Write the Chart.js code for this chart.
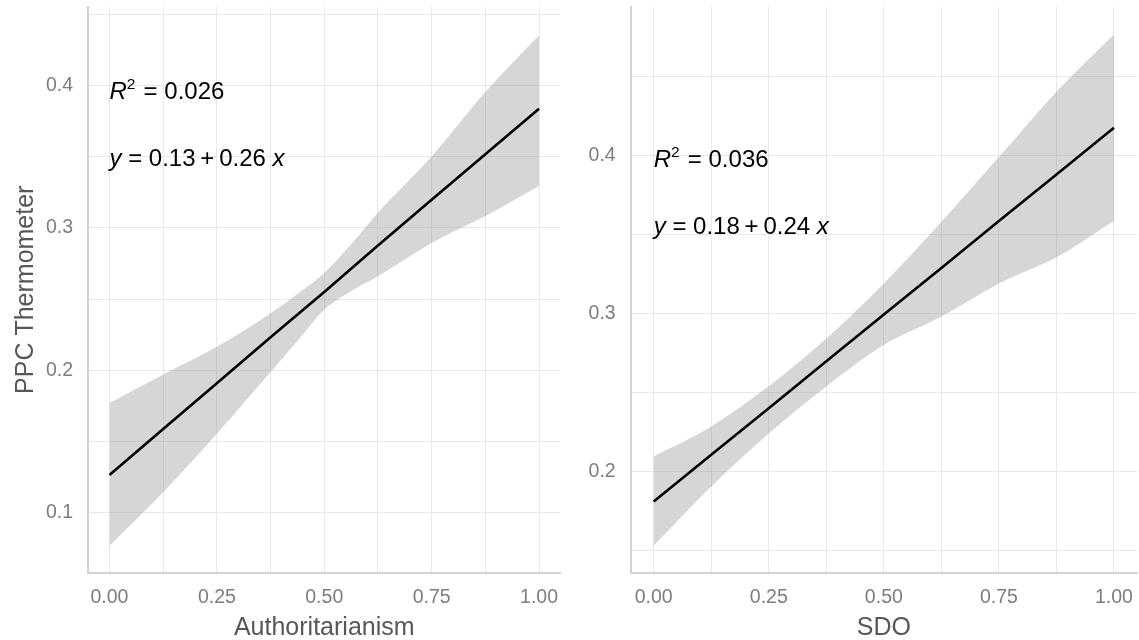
<!DOCTYPE html>
<html>
<head>
<meta charset="utf-8">
<script src="https://cdn.jsdelivr.net/npm/chart.js@4.4.1/dist/chart.umd.min.js"></script>
<style>
  html, body { margin: 0; padding: 0; background: #ffffff; }
  #wrap { position: relative; width: 1139px; height: 640px; overflow: hidden; }
  .panel { position: absolute; top: 0; height: 640px; }
  #left  { left: 0;     width: 570px; }
  #right { left: 570px; width: 569px; }
</style>
</head>
<body>
<div id="wrap">
  <div class="panel" id="left"><canvas id="authChart"></canvas></div>
  <div class="panel" id="right"><canvas id="sdoChart"></canvas></div>
</div>
<script>
// ---- Authoritarianism panel ----
const authFitX   = [0, 0.125, 0.25, 0.375, 0.5, 0.625, 0.75, 0.875, 1];
const authFitY   = [0.1265, 0.1588, 0.1908, 0.2231, 0.2549, 0.2875, 0.3197, 0.3516, 0.3835];
const authBandX  = [0, 0.125, 0.25, 0.375, 0.4375, 0.5, 0.5625, 0.625, 0.75, 0.875, 1];
const authUpper  = [0.177, 0.197, 0.2164, 0.240, 0.2535, 0.2683, 0.2885, 0.3106, 0.350, 0.3953, 0.4352];
const authLower  = [0.0768, 0.1143, 0.1554, 0.1988, 0.2205, 0.2425, 0.2555, 0.266, 0.2894, 0.3082, 0.3293];

// ---- SDO panel ----
const sdoFitX    = [0, 0.125, 0.25, 0.375, 0.5, 0.625, 0.75, 0.875, 1];
const sdoFitY    = [0.181, 0.2105, 0.2400, 0.2697, 0.2993, 0.3288, 0.3585, 0.388, 0.4176];
const sdoBandX   = [0, 0.125, 0.25, 0.375, 0.5, 0.625, 0.75, 0.875, 1];
const sdoUpper   = [0.2095, 0.2285, 0.254, 0.2842, 0.319, 0.358, 0.399, 0.4404, 0.4766];
const sdoLower   = [0.1531, 0.1905, 0.224, 0.2538, 0.280, 0.298, 0.319, 0.3356, 0.3586];

// ---- fit statistics shown in each panel ----
const panelNames  = ['Authoritarianism', 'SDO'];
const rSquared    = ['0.026', '0.036'];
const intercepts  = ['0.13', '0.18'];
const slopes      = ['0.26', '0.24'];

// ---- axes ----
const xGridValues  = [0, 0.125, 0.25, 0.375, 0.5, 0.625, 0.75, 0.875, 1];
const xLabelValues = [0, 0.25, 0.5, 0.75, 1];
const xTickLabels  = ['0.00', '0.25', '0.50', '0.75', '1.00'];
const authYGrid    = [0.1, 0.15, 0.2, 0.25, 0.3, 0.35, 0.4, 0.45];
const sdoYGrid     = [0.15, 0.2, 0.25, 0.3, 0.35, 0.4, 0.45];
const yLabelValues = [0.1, 0.2, 0.3, 0.4];
const yTickLabels  = ['0.1', '0.2', '0.3', '0.4'];
const yAxisTitle   = 'PPC Thermometer';

const FONT = '"Liberation Sans", Arial, sans-serif';
const GRID = '#e8e8e8';

function labelFor(values, labels, v) {
  const i = values.findIndex(u => Math.abs(u - v) < 1e-9);
  return i < 0 ? '' : labels[i];
}

function pts(xs, ys) { return xs.map((x, i) => ({ x: x, y: ys[i] })); }

// Draws the R² and regression equation in plotmath style
const eqLabels = {
  id: 'eqLabels',
  afterDatasetsDraw(chart, args, opts) {
    const { ctx } = chart;
    const xs = chart.scales.x, ys = chart.scales.y;
    const left = xs.getPixelForValue(opts.x);
    ctx.save();
    ctx.fillStyle = '#000000';
    ctx.textBaseline = 'alphabetic';
    ctx.textAlign = 'left';
    opts.lines.forEach(line => {
      let cx = left;
      const base = ys.getPixelForValue(line.y);
      line.parts.forEach(p => {
        ctx.font = (p.italic ? 'italic ' : '') + p.size + 'px ' + FONT;
        ctx.fillText(p.text, cx, base + (p.rise || 0));
        cx += ctx.measureText(p.text).width + (p.gap || 0);
      });
    });
    ctx.restore();
  }
};

function makeChart(canvasId, cfg) {
  const size = 24;
  return new Chart(document.getElementById(canvasId), {
    type: 'line',
    data: {
      datasets: [
        // confidence band: upper edge filled down to the lower edge
        { data: pts(cfg.bandX, cfg.upper), borderWidth: 0, borderColor: 'rgba(0,0,0,0)',
          pointRadius: 0, fill: '+1', backgroundColor: 'rgba(153,153,153,0.4)',
          cubicInterpolationMode: 'monotone', order: 2 },
        { data: pts(cfg.bandX, cfg.lower), borderWidth: 0, borderColor: 'rgba(0,0,0,0)',
          pointRadius: 0, fill: false, cubicInterpolationMode: 'monotone', order: 1 },
        // fitted regression line, drawn on top of the band
        { data: pts(cfg.fitX, cfg.fitY), borderColor: '#000000', borderWidth: 2.6,
          pointRadius: 0, fill: false, tension: 0, borderCapStyle: 'butt', order: 0 }
      ]
    },
    options: {
      responsive: true,
      maintainAspectRatio: false,
      animation: false,
      events: [],
      layout: { padding: { top: 7, right: cfg.padRight, bottom: 0, left: 0 } },
      plugins: {
        legend: { display: false },
        tooltip: { enabled: false },
        eqLabels: {
          x: 0,
          lines: [
            { y: cfg.r2Y, parts: [
              { text: 'R', italic: true, size: size },
              { text: '2', size: 15.5, rise: -10, gap: 1.5 },
              { text: ' = ' + cfg.r2, size: size }
            ] },
            { y: cfg.eqY, parts: [
              { text: 'y', italic: true, size: size },
              { text: ' = ' + cfg.b0 + '\u2009+\u2009' + cfg.b1 + ' ', size: size },
              { text: 'x', italic: true, size: size }
            ] }
          ]
        }
      },
      scales: {
        x: {
          type: 'linear', min: -0.05, max: 1.05,
          afterBuildTicks: s => { s.ticks = xGridValues.map(v => ({ value: v })); },
          afterFit: s => { s.height = 67.5; s.paddingLeft = 0; s.paddingRight = 0; },
          grid: { color: GRID, lineWidth: 1, drawTicks: false },
          border: { display: true, color: '#d2d2d2', width: 2 },
          ticks: {
            padding: 13, color: '#7d7d7d', maxRotation: 0, autoSkip: false,
            font: { family: FONT, size: 19.5 },
            callback: v => labelFor(xLabelValues, xTickLabels, v)
          },
          title: {
            display: true, text: cfg.xTitle, color: '#575757',
            font: { family: FONT, size: 25, lineHeight: 0.92 },
            padding: { top: 0, bottom: 0 }
          }
        },
        y: {
          type: 'linear', min: cfg.yMin, max: cfg.yMax,
          afterBuildTicks: s => { s.ticks = cfg.yGrid.map(v => ({ value: v })); },
          afterFit: s => { s.width = cfg.yWidth; s.paddingTop = 0; s.paddingBottom = 0; },
          grid: { color: GRID, lineWidth: 1, drawTicks: false },
          border: { display: true, color: '#d2d2d2', width: 2 },
          ticks: {
            padding: 15, color: '#7d7d7d',
            font: { family: FONT, size: 19.5 },
            callback: v => labelFor(yLabelValues, yTickLabels, v)
          },
          title: {
            display: !!cfg.yTitle, text: cfg.yTitle || '', color: '#575757',
            font: { family: FONT, size: 25, lineHeight: 1 },
            padding: { top: 14, bottom: 0 }
          }
        }
      }
    },
    plugins: [eqLabels]
  });
}

makeChart('authChart', {
  fitX: authFitX, fitY: authFitY, bandX: authBandX, upper: authUpper, lower: authLower,
  yMin: 0.058, yMax: 0.455, yGrid: authYGrid, yWidth: 88, padRight: 9.5,
  xTitle: panelNames[0], yTitle: yAxisTitle,
  r2: rSquared[0], b0: intercepts[0], b1: slopes[0], r2Y: 0.3902, eqY: 0.3433
});

makeChart('sdoChart', {
  fitX: sdoFitX, fitY: sdoFitY, bandX: sdoBandX, upper: sdoUpper, lower: sdoLower,
  yMin: 0.136, yMax: 0.494, yGrid: sdoYGrid, yWidth: 60.7, padRight: 2,
  xTitle: panelNames[1], yTitle: '',
  r2: rSquared[1], b0: intercepts[1], b1: slopes[1], r2Y: 0.3924, eqY: 0.3503
});
</script>
</body>
</html>
